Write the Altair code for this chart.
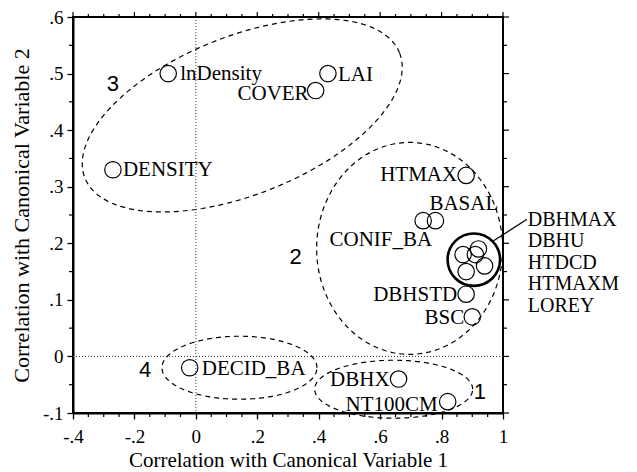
import altair as alt
import pandas as pd
import numpy as np

# ---------------- data ----------------
names = ["lnDensity", "DENSITY", "COVER", "LAI", "HTMAX", "CONIF_BA", "BASAL",
         "DBHSTD", "BSC", "DBHX", "NT100CM", "DECID_BA",
         "DBHMAX", "DBHU", "HTDCD", "HTMAXM", "LOREY"]
cv1 = [-0.09, -0.27, 0.39, 0.43, 0.88, 0.74, 0.78,
       0.88, 0.90, 0.66, 0.82, -0.02,
       0.87, 0.91, 0.92, 0.94, 0.88]
cv2 = [0.50, 0.33, 0.47, 0.50, 0.32, 0.24, 0.24,
       0.11, 0.07, -0.04, -0.08, -0.02,
       0.18, 0.18, 0.19, 0.16, 0.15]

# labelled individually (name, align, dx, dy)
label_style = {
    "lnDensity": ("left", 12, 0),
    "DENSITY": ("left", 10, 0),
    "COVER": ("right", -7, 3),
    "LAI": ("left", 10, 1),
    "HTMAX": ("right", -9, 0),
    "CONIF_BA": ("right", 9, 19),
    "BASAL": ("left", -6, -17),
    "DBHSTD": ("right", -9, 1),
    "BSC": ("right", -8, 1),
    "DBHX": ("right", -9, 1),
    "NT100CM": ("right", -10, 3),
    "DECID_BA": ("left", 12, 1),
}
cluster_names = ["DBHMAX", "DBHU", "HTDCD", "HTMAXM", "LOREY"]
cluster_center = (0.905, 0.171)
leader = {"x": [0.968], "y": [0.204], "x2": [1.078], "y2": [0.2425]}

# groups (ellipses): centre in data units, semi-axes in pixels, rotation in degrees
groups = ["3", "2", "1", "4"]
ell_cx = [0.151, 0.696, 0.644, 0.142]
ell_cy = [0.426, 0.191, -0.058, -0.020]
ell_a = [169.3, 93.0, 79.0, 77.5]
ell_b = [79.1, 106.0, 29.0, 31.5]
ell_rot = [21.7, 0.0, 0.0, 0.0]
group_lx = [-0.27, 0.325, 0.925, -0.165]
group_ly = [0.482, 0.175, -0.062, -0.024]

x_major = [-0.4, -0.2, 0.0, 0.2, 0.4, 0.6, 0.8, 1.0]
x_minor = [-0.35, -0.3, -0.25, -0.15, -0.1, -0.05, 0.05, 0.1, 0.15, 0.25, 0.3, 0.35,
           0.45, 0.5, 0.55, 0.65, 0.7, 0.75, 0.85, 0.9, 0.95]
y_major = [-0.1, 0.0, 0.1, 0.2, 0.3, 0.4, 0.5, 0.6]
y_minor = [-0.05, 0.05, 0.15, 0.25, 0.35, 0.45, 0.55]

# ---------------- layout ----------------
W, H = 430, 396
XD = [-0.4, 1.0]
YD = [-0.1, 0.6]
SX = W / (XD[1] - XD[0])
SY = H / (YD[1] - YD[0])
SERIF = "Liberation Serif"
SANS = "Liberation Sans"
LFS = 21

pts = pd.DataFrame({"name": names, "x": cv1, "y": cv2})

rows = []
t = np.linspace(0, 2 * np.pi, 145)
for g, cx, cy, a, b, r in zip(groups, ell_cx, ell_cy, ell_a, ell_b, ell_rot):
    th = np.deg2rad(r)
    px = a * np.cos(t) * np.cos(th) - b * np.sin(t) * np.sin(th)
    py = a * np.cos(t) * np.sin(th) + b * np.sin(t) * np.cos(th)
    for i, (u, v) in enumerate(zip(px, py)):
        rows.append({"g": g, "i": i, "x": cx + u / SX, "y": cy + v / SY})
ell = pd.DataFrame(rows)

xs = alt.Scale(domain=XD, nice=False, zero=False)
ys = alt.Scale(domain=YD, nice=False, zero=False)

LABEL_EXPR = ("datum.value == 1 ? '1' : datum.value == 0 ? '0' : "
              "(datum.value < 0 ? '-' : '') + replace(format(abs(datum.value), '.1f'), '0.', '.')")

xaxis = alt.Axis(values=x_major, tickSize=6, tickWidth=1.3, tickColor="black",
                 domainColor="black", domainWidth=2, grid=False, labelFlush=False,
                 labelFont=SERIF, labelFontSize=19, labelColor="black", labelPadding=8,
                 labelExpr=LABEL_EXPR,
                 title="Correlation with Canonical Variable 1", titleFont=SERIF,
                 titleFontSize=21, titleFontWeight="normal", titleColor="black", titlePadding=3)
yaxis = alt.Axis(values=y_major, tickSize=6, tickWidth=1.3, tickColor="black",
                 domainColor="black", domainWidth=2, grid=False, labelFlush=False,
                 labelFont=SERIF, labelFontSize=19, labelColor="black", labelPadding=4,
                 labelExpr=LABEL_EXPR,
                 title="Correlation with Canonical Variable 2", titleFont=SERIF,
                 titleFontSize=22, titleFontWeight="normal", titleColor="black", titlePadding=9)

X = alt.X("x:Q", scale=xs, axis=xaxis)
Y = alt.Y("y:Q", scale=ys, axis=yaxis)

ellipses = alt.Chart(ell).mark_line(stroke="black", strokeWidth=1.2, strokeDash=[5, 4]).encode(
    x=X, y=Y, detail="g:N", order="i:Q")

zero_df = pd.DataFrame({"v": [0.0]})
vline = alt.Chart(zero_df).mark_rule(stroke="#333", strokeWidth=1, strokeDash=[1, 2]).encode(
    x=alt.X("v:Q", scale=xs), y=alt.value(0), y2=alt.value(H))
hline = alt.Chart(zero_df).mark_rule(stroke="#333", strokeWidth=1, strokeDash=[1, 2]).encode(
    y=alt.Y("v:Q", scale=ys), x=alt.value(0), x2=alt.value(W))

circles = alt.Chart(pts).mark_point(shape="circle", size=270, filled=False,
                                    stroke="black", strokeWidth=1.2, opacity=1).encode(x=X, y=Y)

big = alt.Chart(pd.DataFrame({"x": [cluster_center[0]], "y": [cluster_center[1]]})).mark_point(
    shape="circle", size=2750, filled=False, stroke="black", strokeWidth=2.6, opacity=1).encode(x=X, y=Y)

lead = alt.Chart(pd.DataFrame(leader)).mark_rule(stroke="black", strokeWidth=1.2).encode(
    x=X, y=Y, x2="x2:Q", y2="y2:Q")

texts = []
for n, (al, dx, dy) in label_style.items():
    texts.append(
        alt.Chart(pts).transform_filter(alt.datum.name == n).mark_text(
            align=al, baseline="middle", dx=dx, dy=dy, font=SERIF, fontSize=LFS, color="black"
        ).encode(x=X, y=Y, text="name:N"))

cl = alt.Chart(pd.DataFrame({"x": [cluster_center[0]], "y": [cluster_center[1]],
                             "t": ["\n".join(cluster_names)]})).mark_text(
    align="left", baseline="middle", dx=54, dy=-40, font=SERIF, fontSize=20, color="black",
    lineBreak="\n", lineHeight=21.5).encode(x=X, y=Y, text="t:N")

gl = alt.Chart(pd.DataFrame({"x": group_lx, "y": group_ly, "g": groups})).mark_text(
    align="center", baseline="middle", font=SANS, fontSize=22, color="black").encode(
    x=X, y=Y, text="g:N")

# extra ticks: minor bottom/left, all top/right
xmin_df = pd.DataFrame({"v": x_minor})
ymin_df = pd.DataFrame({"v": y_minor})

tick_kw = dict(stroke="black", strokeWidth=1.2)
t_bot = alt.Chart(xmin_df).mark_rule(**tick_kw).encode(
    x=alt.X("v:Q", scale=xs), y=alt.value(H), y2=alt.value(H + 4))
t_left = alt.Chart(ymin_df).mark_rule(**tick_kw).encode(
    y=alt.Y("v:Q", scale=ys), x=alt.value(0), x2=alt.value(-4))
t_top_maj = alt.Chart(pd.DataFrame({"v": x_major})).mark_rule(**tick_kw).encode(
    x=alt.X("v:Q", scale=xs), y=alt.value(0), y2=alt.value(-5))
t_top_min = alt.Chart(xmin_df).mark_rule(**tick_kw).encode(
    x=alt.X("v:Q", scale=xs), y=alt.value(0), y2=alt.value(-3))
t_r_maj = alt.Chart(pd.DataFrame({"v": y_major})).mark_rule(**tick_kw).encode(
    y=alt.Y("v:Q", scale=ys), x=alt.value(W), x2=alt.value(W + 6))
t_r_min = alt.Chart(ymin_df).mark_rule(**tick_kw).encode(
    y=alt.Y("v:Q", scale=ys), x=alt.value(W), x2=alt.value(W + 4))

chart = alt.layer(
    vline, hline, ellipses, circles, big, lead, *texts, cl, gl,
    t_bot, t_left, t_top_maj, t_top_min, t_r_maj, t_r_min
).properties(
    width=W, height=H,
    autosize=alt.AutoSizeParams(type="none"),
    padding={"left": 65, "top": 9, "right": 124, "bottom": 58},
    background="white",
).configure_view(stroke="black", strokeWidth=2)

chart.save("out.html", embed_options={"renderer": "svg", "actions": False})
